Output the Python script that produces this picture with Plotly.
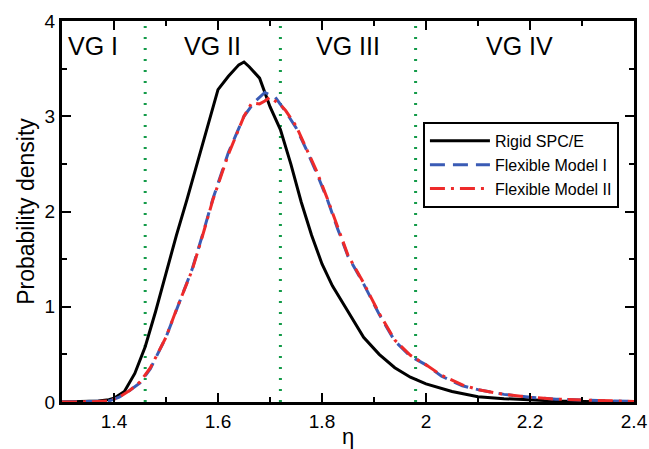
import plotly.graph_objects as go

# ---- data ----
eta_rigid = [1.30,1.34,1.37,1.39,1.40,1.42,1.44,1.46,1.48,1.50,1.52,1.54,1.56,1.58,1.60,1.62,1.64,1.65,1.66,1.68,1.70,1.72,1.74,1.76,1.78,1.80,1.82,1.85,1.88,1.91,1.94,1.97,2.00,2.05,2.10,2.15,2.20,2.25,2.30,2.35,2.40]
pd_rigid = [0,0.003,0.01,0.025,0.04,0.11,0.3,0.58,0.95,1.35,1.75,2.12,2.5,2.9,3.28,3.42,3.54,3.57,3.52,3.4,3.1,2.86,2.5,2.1,1.75,1.45,1.22,0.95,0.68,0.5,0.36,0.26,0.19,0.11,0.055,0.035,0.02,0.01,0.006,0.003,0.001]

eta_flex1 = [1.30,1.36,1.39,1.41,1.43,1.45,1.47,1.50,1.52,1.55,1.57,1.59,1.62,1.65,1.67,1.69,1.71,1.73,1.75,1.77,1.79,1.81,1.83,1.85,1.88,1.91,1.94,1.97,2.00,2.03,2.07,2.10,2.15,2.20,2.25,2.30,2.35,2.40]
pd_flex1 = [0,0.002,0.01,0.05,0.12,0.2,0.35,0.68,0.97,1.39,1.75,2.13,2.62,3.0,3.15,3.25,3.2,3.05,2.88,2.65,2.4,2.13,1.82,1.53,1.24,0.92,0.64,0.48,0.39,0.27,0.17,0.13,0.08,0.05,0.03,0.02,0.01,0.005]

eta_flex2 = [1.30,1.36,1.39,1.41,1.43,1.45,1.47,1.50,1.52,1.55,1.57,1.59,1.62,1.65,1.665,1.68,1.69,1.70,1.72,1.73,1.75,1.77,1.79,1.81,1.83,1.85,1.88,1.91,1.94,1.97,2.00,2.03,2.07,2.10,2.15,2.20,2.25,2.30,2.35,2.40]
pd_flex2 = [0,0.002,0.012,0.05,0.12,0.21,0.36,0.68,0.97,1.38,1.74,2.12,2.6,3.0,3.14,3.13,3.16,3.2,3.12,3.06,2.9,2.66,2.42,2.14,1.83,1.54,1.25,0.93,0.65,0.49,0.39,0.28,0.18,0.13,0.08,0.05,0.03,0.02,0.01,0.005]

vg_bounds = [1.46, 1.72, 1.98]
vg_labels = ["VG I", "VG II", "VG III", "VG IV"]
vg_label_x = [1.36, 1.59, 1.85, 2.18]

x_tickvals = [1.4, 1.6, 1.8, 2.0, 2.2, 2.4]
x_ticktext = ["1.4", "1.6", "1.8", "2", "2.2", "2.4"]
y_tickvals = [0, 1, 2, 3, 4]
y_ticktext = ["0", "1", "2", "3", "4"]

FONT = "Liberation Sans, Arial, sans-serif"

fig = go.Figure()

for xb in vg_bounds:
    fig.add_trace(go.Scatter(x=[xb, xb], y=[0, 4], mode="lines",
                             line=dict(color="#129a48", width=3, dash="2px,9px"),
                             showlegend=False, hoverinfo="skip"))

fig.add_trace(go.Scatter(x=eta_rigid, y=pd_rigid, mode="lines", name="Rigid SPC/E",
                         line=dict(color="black", width=3)))
fig.add_trace(go.Scatter(x=eta_flex1, y=pd_flex1, mode="lines", name="Flexible Model I",
                         line=dict(color="#3a5bb5", width=3, dash="15px,8px")))
fig.add_trace(go.Scatter(x=eta_flex2, y=pd_flex2, mode="lines", name="Flexible Model II",
                         line=dict(color="#ee2a2a", width=3, dash="15px,6px,3px,6px")))

for lab, lx in zip(vg_labels, vg_label_x):
    fig.add_annotation(x=lx, y=3.74, text=lab, showarrow=False,
                       font=dict(family=FONT, size=25, color="black"),
                       xanchor="center", yanchor="middle")

fig.update_layout(
    width=649, height=449,
    margin=dict(l=62, r=15, t=21, b=47),
    paper_bgcolor="white", plot_bgcolor="white",
    font=dict(family=FONT, color="black"),
    legend=dict(x=0.631, y=0.735, xanchor="left", yanchor="top",
                bordercolor="black", borderwidth=2, bgcolor="white",
                font=dict(family=FONT, size=16, color="black"),
                itemwidth=60, tracegroupgap=0),
)

fig.update_xaxes(range=[1.3, 2.4], showgrid=False, zeroline=False, automargin=False,
                 showline=True, linecolor="black", linewidth=3, mirror="allticks",
                 ticks="inside", ticklen=9, tickwidth=2, tickcolor="black",
                 tickvals=x_tickvals, ticktext=x_ticktext,
                 tickfont=dict(family=FONT, size=19, color="black"),
                 minor=dict(ticks="inside", ticklen=5, tickwidth=2, tickcolor="black", dtick=0.1, showgrid=False),
                 title=dict(text="η", font=dict(family=FONT, size=22, color="black"), standoff=2))
fig.update_yaxes(range=[0, 4], showgrid=False, zeroline=False, automargin=False,
                 showline=True, linecolor="black", linewidth=3, mirror="allticks",
                 ticks="inside", ticklen=9, tickwidth=2, tickcolor="black",
                 tickvals=y_tickvals, ticktext=y_ticktext,
                 tickfont=dict(family=FONT, size=19, color="black"),
                 minor=dict(ticks="inside", ticklen=5, tickwidth=2, tickcolor="black", dtick=0.5, showgrid=False),
                 title=dict(text="Probability density", font=dict(family=FONT, size=23, color="black"), standoff=4))

fig.write_html("out.html")
